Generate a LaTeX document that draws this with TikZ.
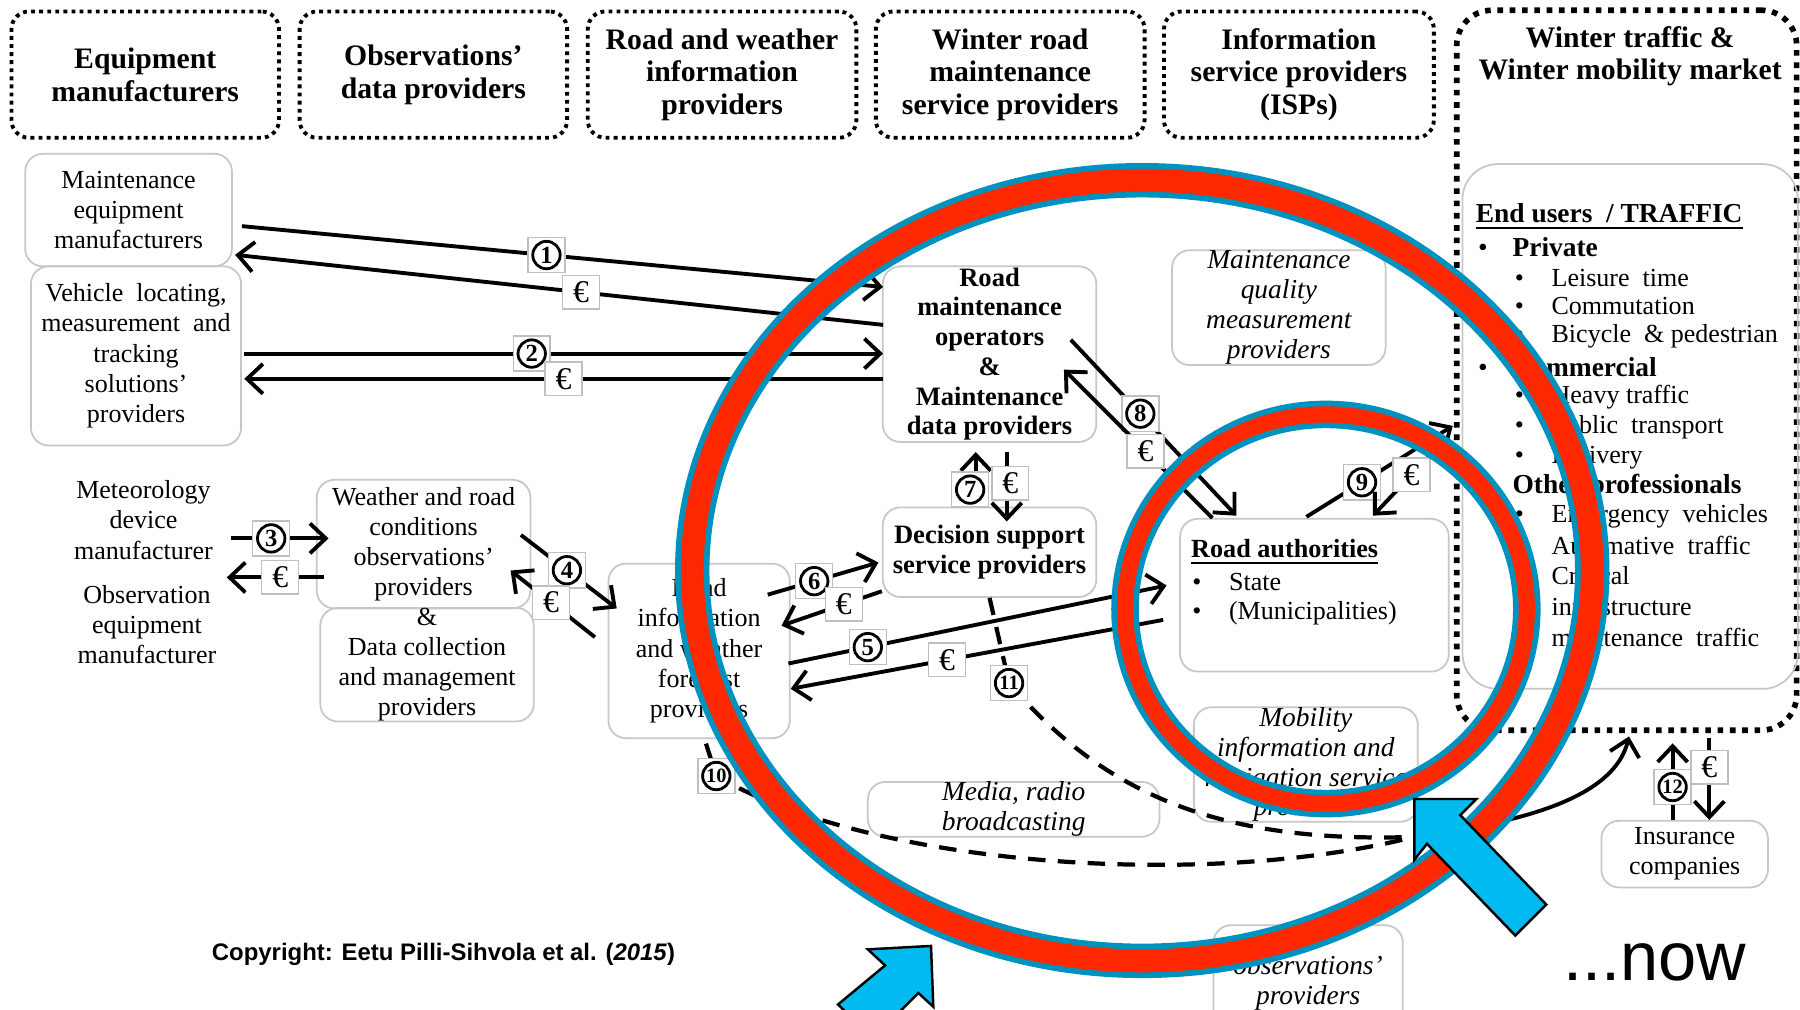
\documentclass[tikz,border=0pt]{standalone}
\usepackage{fontspec}
\setmainfont{Liberation Serif}
\newfontfamily\sansf{Liberation Sans}
\usetikzlibrary{arrows.meta,calc}
\definecolor{ringred}{RGB}{255,40,0}
\definecolor{ringblue}{RGB}{0,146,190}
\definecolor{arrcyan}{RGB}{0,186,240}
\def\uu{0.32655pt}
\newcommand\hdrfnt{\bfseries\fontsize{8.45pt}{9.3pt}\selectfont}
\newcommand\regfnt{\fontsize{7.4pt}{8.6pt}\selectfont}
\newcommand\bldfnt{\bfseries\fontsize{7.55pt}{8.45pt}\selectfont}
\newcommand\itfnt{\itshape\fontsize{7.8pt}{8.5pt}\selectfont}
\newcommand\bA[1]{\makebox[9.8pt][l]{\textbullet}#1}
\newcommand\bB[1]{\makebox[10.45pt][l]{\textbullet}#1}
\begin{document}
\begin{tikzpicture}[x=0.0114796cm, y=-0.0114796cm,
  hdr/.style={draw, line width=1.1pt, dash pattern=on 1.1pt off 1.2pt, rounded corners=5pt, inner sep=0pt, align=center, font=\hdrfnt},
  bx/.style={draw=black!22, line width=0.5pt, rounded corners=5pt, inner sep=0pt, align=center, font=\regfnt},
  sz/.style 2 args={minimum width=#1*\uu, minimum height=#2*\uu},
  flow/.style={line width=1.1pt, -{Straight Barb[length=4.5pt,width=8.5pt]}},
  dl/.style={line width=1.2pt, dash pattern=on 5pt off 3.5pt},
  numbox/.style={solid, fill=white, draw=black!25, line width=0.4pt, inner sep=0pt, minimum width=10.5pt, minimum height=10pt, font=\bfseries\fontsize{7pt}{7pt}\selectfont, path picture={\draw[draw=black, solid, line width=0.8pt] (path picture bounding box.center) circle (3.9pt);}},
  numboxb/.style={numbox, font=\bfseries\fontsize{5.8pt}{5.8pt}\selectfont},
  eurobox/.style={solid, fill=white, draw=black!25, line width=0.4pt, inner sep=0pt, minimum width=10.5pt, minimum height=9.5pt, font=\fontsize{9pt}{9pt}\selectfont},
  lt/.style={anchor=west, inner sep=0pt, font=\fontsize{7.4pt}{8.5pt}\selectfont},
  ltb/.style={anchor=west, inner sep=0pt, font=\fontsize{7.8pt}{8.5pt}\selectfont}
]
\useasboundingbox (0,0) rectangle (1568,879);
\fill[white] (0,0) rectangle (1568,879);

% header boxes
\node[hdr, sz={233}{110}] (h1) at (126.5,65) {Equipment\\manufacturers};
\node[hdr, sz={233}{110}] (h2) at (377.5,65) {Observations’\\data providers};
\node[hdr, sz={234}{110}] (h3) at (629,65) {Road and weather\\information\\providers};
\node[hdr, sz={234}{110}] (h4) at (880,65) {Winter road\\maintenance\\service providers};
\node[hdr, sz={235}{110}] (h5) at (1131.5,65) {Information\\service providers\\(ISPs)};
\node[draw, line width=1.6pt, dash pattern=on 1.6pt off 1.9pt, rounded corners=10pt, inner sep=0pt, sz={296}{627}] (h6) at (1417,322.5) {};
\node[font=\hdrfnt, align=center, inner sep=0pt] (h6t) at (1420,49) {Winter traffic \&\\Winter mobility market};

% end users box
\node[bx, rounded corners=10pt, sz={292}{457}] (eu) at (1420,371.5) {};
\node[ltb] (eu0) at (1285,189) {\textbf{\underline{End users\enspace/ TRAFFIC}}};
\node[ltb] (eu1) at (1287,215) {\bA{\textbf{Private}}};
\node[lt] (eu2) at (1319,242) {\bB{Leisure\enspace time}};
\node[lt] (eu3) at (1319,267) {\bB{Commutation}};
\node[lt] (eu4) at (1319,293) {\bB{Bicycle\enspace\& pedestrian}};
\node[ltb] (eu5) at (1287,320) {\bA{\textbf{Commercial}}};
\node[lt] (eu6) at (1319,346) {\bB{Heavy traffic}};
\node[lt] (eu7) at (1319,372) {\bB{Public\enspace transport}};
\node[lt] (eu8) at (1319,398) {\bB{Delivery}};
\node[ltb] (eu9) at (1287,424) {\bA{\textbf{Other professionals}}};
\node[lt] (eu10) at (1319,450) {\bB{Emergency\enspace vehicles}};
\node[lt] (eu11) at (1319,475) {\bB{Automative\enspace traffic}};
\node[lt] (eu12) at (1319,501) {\bB{Critical}};
\node[lt] (eu13) at (1351,528) {infrastructure};
\node[lt] (eu14) at (1351,555) {maintenance\enspace traffic};

% left column
\node[bx, sz={180}{98}] (a1) at (112,183) {Maintenance\\equipment\\manufacturers};
\node[bx, sz={183}{156}] (a2) at (118.5,310) {Vehicle\enspace locating,\\measurement\enspace and\\tracking\\solutions’\\providers};
\node[align=center, font=\regfnt, inner sep=0pt] (m1) at (125,453) {Meteorology\\device\\manufacturer};
\node[align=center, font=\regfnt, inner sep=0pt] (m2) at (128,544) {Observation\\equipment\\manufacturer};
\node[bx, sz={186}{112}] (b1) at (369,474) {Weather and road\\conditions\\observations’\\providers};
\node[bx, sz={186}{92}] (b2) at (372,579) {\&\\Data collection\\and management\\providers};
\node[bx, sz={158}{152}] (c) at (609,567) {Road\\information\\and weather\\forecast\\providers};

% centre
\node[bx, font=\bldfnt, sz={186}{153}] (d) at (862,308.5) {Road\\maintenance\\operators\\\&\\Maintenance\\data providers};
\node[bx, font=\bldfnt, sz={186}{78}] (e) at (862,481) {Decision support\\service providers};
\node[bx, font=\itfnt, sz={186}{100}] (f) at (1114,268) {Maintenance\\quality\\measurement\\providers};
\node[bx, sz={234}{133}] (g) at (1145,518.5) {};
\node[lt, font=\bfseries\fontsize{7.45pt}{8.5pt}\selectfont] (g0) at (1037,481) {\underline{Road authorities}};
\node[lt] (g1) at (1038,507) {\bB{State}};
\node[lt] (g2) at (1038,534) {\bB{(Municipalities)}};
\node[bx, font=\itfnt, sz={195}{92}] (mi) at (1137.5,666) {Mobility\\information and\\navigation service\\providers};
\node[bx, font=\itfnt, sz={254}{30}] (media) at (883,705) {Media, radio\\broadcasting};
\node[bx, sz={145}{58}] (ins) at (1467.5,744) {Insurance\\companies};
\node[bx, sz={165}{90}] (vo) at (1139.5,851) {};
\node[font=\itfnt, align=center, inner sep=0pt] (vot) at (1139.5,856) {observations’\\providers};

% footer texts
\node[anchor=west, font=\sansf\bfseries\fontsize{6.8pt}{8pt}\selectfont, inner sep=0pt] (copy) at (184,831) {Copyright: Eetu Pilli-Sihvola et al. (\textit{2015})};
\node[anchor=west, font=\sansf\fontsize{19.5pt}{24pt}\selectfont, inner sep=0pt] (now) at (1361,838) {...now};

% flows
\draw[flow] ($(a1.east)+(8,14)$) -- node[numbox,pos=.475]{1} ($(d.west)+(1,-58.5)$);
\draw[flow] ($(d.west)+(1,-25.5)$) -- node[eurobox,pos=.466]{€} ($(a1.east)+(2,39)$);
\draw[flow] ($(a2.east)+(2,-2)$) -- node[numbox,pos=.45]{2} ($(d.west)+(1,-0.5)$);
\draw[flow] ($(d.west)+(1,21.5)$) -- node[eurobox,pos=.5]{€} ($(a2.east)+(2,20)$);
\draw[flow] ($(m1.east)+(15.5,16)$) -- node[numbox,pos=.41]{3} ($(b1.west)+(11,-5)$);
\draw[flow] ($(b1.west)+(7,29)$) -- node[eurobox,pos=.45]{€} ($(m1.east)+(11.5,50)$);
\draw[flow] ($(b1.east)+(-9,-8)$) -- node[numbox,pos=.48]{4} ($(c.west)+(8,-37)$);
\draw[flow] ($(c.west)+(-11,-12)$) -- node[eurobox,pos=.52]{€} ($(b1.east)+(-18,23)$);
\draw[flow] ($(c.east)+(-20,-49)$) -- node[numbox,pos=.42]{6} ($(e.west)+(-3,9)$);
\draw[flow] ($(e.west)+(0,34)$) -- node[eurobox,pos=.38]{€} ($(c.east)+(-8,-22)$);
\draw[flow] ($(c.east)+(-2,11)$) -- node[numbox,pos=.21]{5} ($(g.west)+(-11,-8.5)$);
\draw[flow] ($(g.west)+(-14,21.5)$) -- node[eurobox,pos=.58]{€} ($(c.east)+(0,33)$);
\draw[flow] ($(e.north)+(-12,-2)$) -- node[numbox,pos=.28,xshift=-1.6pt]{7} ($(d.south)+(-12,8)$);
\draw[flow] ($(d.south)+(15,8)$) -- node[eurobox,pos=.45,xshift=1pt]{€} ($(e.north)+(15,13)$);
\draw[flow] ($(d.east)+(-23,-12.5)$) -- node[numbox,pos=.42]{8} ($(g.north)+(-68,-2)$);
\draw[flow] ($(g.north)+(-89,0)$) -- node[eurobox,pos=.45]{€} ($(d.east)+(-29,13.5)$);
\draw[flow] ($(g.north)+(-7,-1)$) -- node[numbox,pos=.38]{9} ($(h6.west)+(-1,48.5)$);
\draw[flow] ($(h6.west)+(-7,59.5)$) -- node[eurobox,pos=.47]{€} ($(g.north)+(51,-2)$);
\draw[flow] ($(ins.north)+(-10.5,0)$) -- node[numboxb,pos=.43]{12} ($(h6.south)+(40,9)$);
\draw[flow] ($(h6.south)+(72,4)$) -- node[eurobox,pos=.36]{€} ($(ins.north)+(21.5,0)$);

% dashed flows 10 and 11
\coordinate (conv) at (1232,729);
\draw[dl] ($(c.south)+(6,4)$) -- node[numboxb,pos=1]{10} (624,676) .. controls (760,755) and (1050,775) .. (conv);
\draw[dl] (e.south) -- node[numboxb,pos=1]{11} (879,595) .. controls (960,690) and (1060,735) .. (conv);
\draw[flow] (conv) .. controls (1310,718) and (1405,700) .. ($(h6.south)+(2,3)$);

% rings
\draw[ringblue, line width=9.8pt] (995,497) ellipse [x radius=392, y radius=340];
\draw[ringred, line width=6.5pt] (995,497) ellipse [x radius=392, y radius=340];
\draw[ringblue, line width=7.84pt] (1155,530.5) ellipse [x radius=175, y radius=169.5];
\draw[ringred, line width=4.6pt] (1155,530.5) ellipse [x radius=175, y radius=169.5];

% block arrows
\filldraw[fill=arrcyan, draw=black, line width=0.7pt, line join=miter] (1232,696) -- (1286,696) -- (1272,710) -- (1347,788) -- (1320,815) -- (1243,735) -- (1232,749) -- cycle;
\begin{scope}
\clip (0,0) rectangle (1568,879);
\filldraw[fill=arrcyan, draw=black, line width=0.7pt, line join=miter] (811,824) -- (813,877) -- (800,865) -- (760,905) -- (730,875) -- (771,841) -- (756,827) -- cycle;
\end{scope}
\end{tikzpicture}
\end{document}
